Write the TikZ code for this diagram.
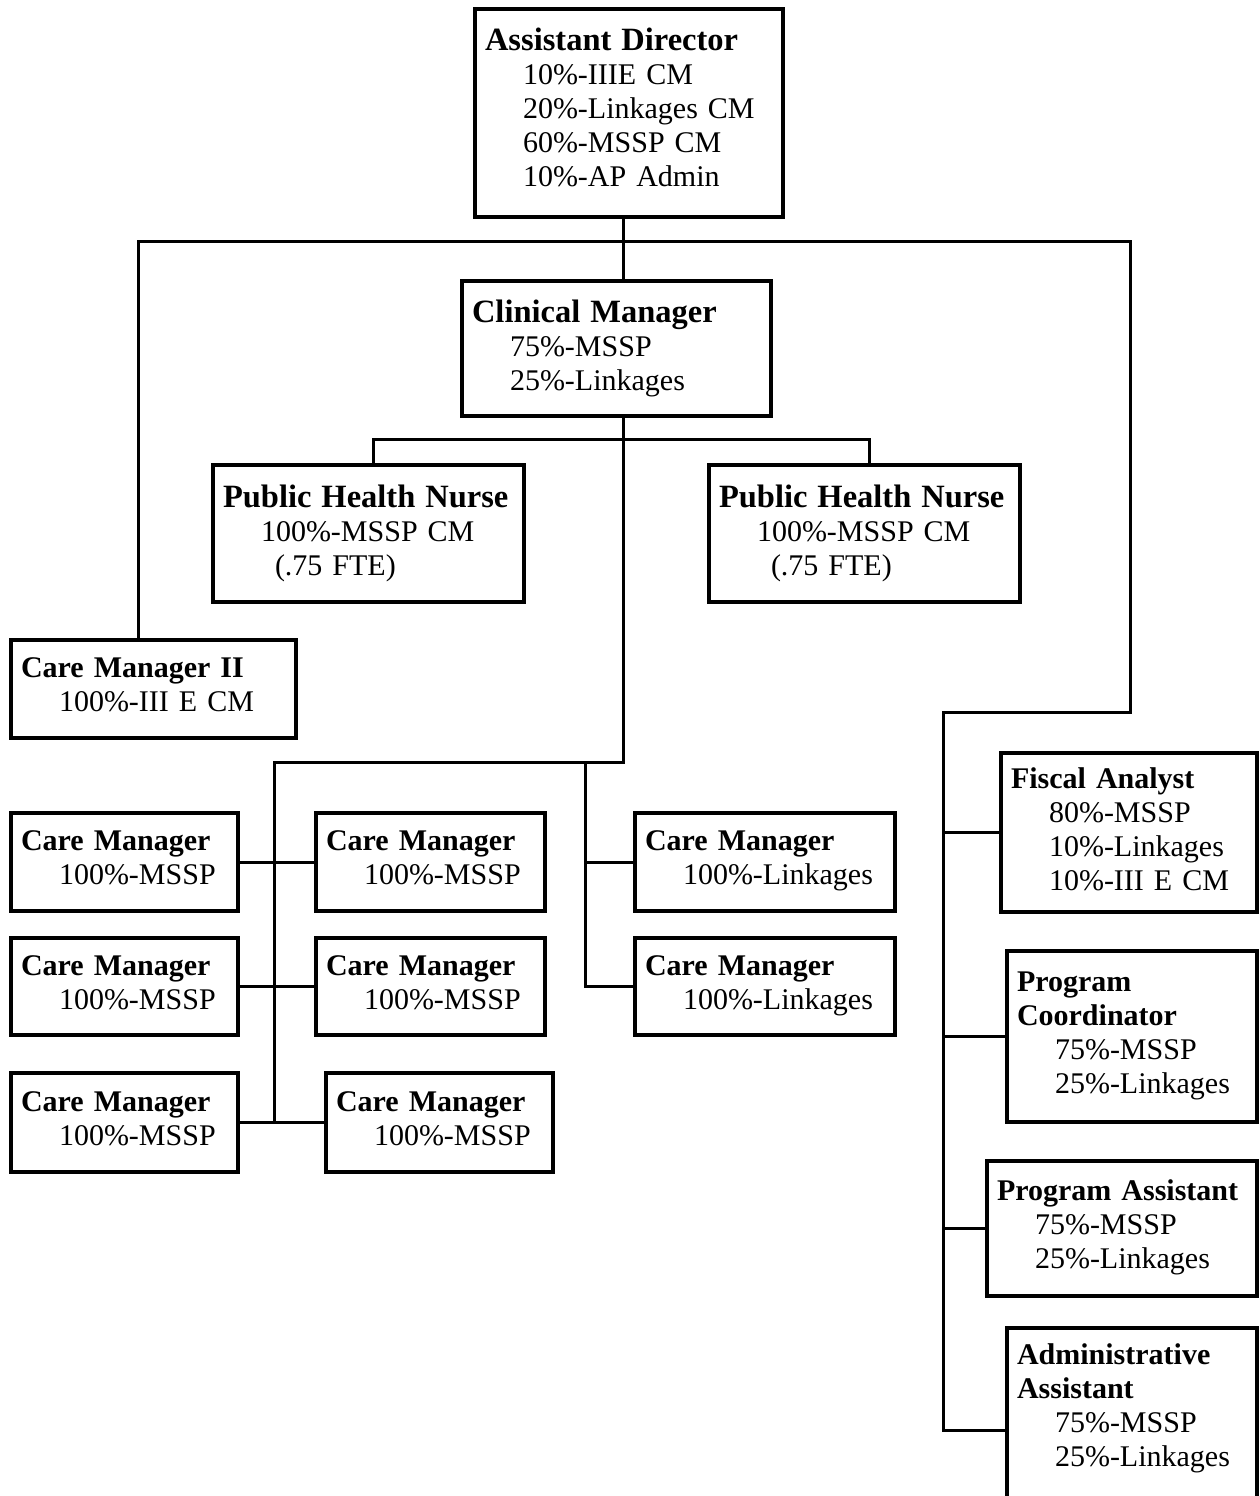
\documentclass[tikz,border=0pt]{standalone}
\usepackage{fontspec}
\setmainfont{Liberation Serif}
\usepackage{tikz}

\newcommand{\ttl}[1]{{\bfseries #1}}
\newcommand{\ttlw}[1]{{\fontsize{32.5}{34}\selectfont\bfseries #1}}
\newcommand{\ind}{\hspace*{38pt}}
\newcommand{\lift}[1][8pt]{\rule[-#1]{0pt}{0pt}}

\begin{document}
\begin{tikzpicture}[x=1pt, y=-1pt,
    orgbox/.style={rectangle, draw, line width=4pt, anchor=north west, inner xsep=10pt, inner ysep=0pt, outer sep=0pt, align=left, font=\fontsize{30}{34}\selectfont},
    link/.style={line width=3pt}
]
    \useasboundingbox (0,0) rectangle (1260,1496);
    \clip (0,0) rectangle (1260,1496);

    % Assistant Director
    \node[orgbox, minimum width=308pt, minimum height=208pt, text width=288pt] (ad) at (475,9) {\ttlw{Assistant Director}\\
    \ind 10\%-IIIE CM\\ \ind 20\%-Linkages CM\\ \ind 60\%-MSSP CM\\ \ind 10\%-AP Admin\lift[12pt]};

    % Clinical Manager
    \node[orgbox, minimum width=309pt, minimum height=135pt, text width=289pt] (cm) at (462,281) {\ttlw{Clinical Manager}\\
    \ind 75\%-MSSP\\ \ind 25\%-Linkages};

    % Public Health Nurses
    \node[orgbox, minimum width=311pt, minimum height=137pt, text width=291pt] (phl) at (213,465) {\ttlw{Public Health Nurse}\\
    \ind 100\%-MSSP CM\\ \hspace*{52pt}(.75 FTE)};
    \node[orgbox, minimum width=311pt, minimum height=137pt, text width=291pt] (phr) at (709,465) {\ttlw{Public Health Nurse}\\
    \ind 100\%-MSSP CM\\ \hspace*{52pt}(.75 FTE)};

    % Care Manager II
    \node[orgbox, minimum width=285pt, minimum height=98pt, text width=265pt] (cmii) at (11,640) {\ttl{Care Manager II}\\
    \ind 100\%-III E CM\lift};

    % Care Managers (MSSP)
    \node[orgbox, minimum width=227pt, minimum height=98pt, text width=207pt] (cmA1) at (11,813) {\ttl{Care Manager}\\ \ind 100\%-MSSP\lift};
    \node[orgbox, minimum width=227pt, minimum height=97pt, text width=207pt] (cmA2) at (11,938) {\ttl{Care Manager}\\ \ind 100\%-MSSP\lift};
    \node[orgbox, minimum width=227pt, minimum height=99pt, text width=207pt] (cmA3) at (11,1073) {\ttl{Care Manager}\\ \ind 100\%-MSSP\lift};
    \node[orgbox, minimum width=229pt, minimum height=98pt, text width=209pt] (cmB1) at (316,813) {\ttl{Care Manager}\\ \ind 100\%-MSSP\lift};
    \node[orgbox, minimum width=229pt, minimum height=97pt, text width=209pt] (cmB2) at (316,938) {\ttl{Care Manager}\\ \ind 100\%-MSSP\lift};
    \node[orgbox, minimum width=227pt, minimum height=99pt, text width=207pt] (cmB3) at (326,1073) {\ttl{Care Manager}\\ \ind 100\%-MSSP\lift};

    % Care Managers (Linkages)
    \node[orgbox, minimum width=260pt, minimum height=98pt, text width=240pt] (lkA) at (635,813) {\ttl{Care Manager}\\ \ind 100\%-Linkages\lift};
    \node[orgbox, minimum width=260pt, minimum height=97pt, text width=240pt] (lkB) at (635,938) {\ttl{Care Manager}\\ \ind 100\%-Linkages\lift};

    % Support staff
    \node[orgbox, minimum width=256pt, minimum height=159pt, text width=236pt] (fa) at (1001,753) {\ttl{Fiscal Analyst}\\
    \ind 80\%-MSSP\\ \ind 10\%-Linkages\\ \ind 10\%-III E CM\lift[6pt]};
    \node[orgbox, minimum width=250pt, minimum height=171pt, text width=230pt] (pc) at (1007,951) {\ttl{Program}\\ \ttl{Coordinator}\\
    \ind 75\%-MSSP\\ \ind 25\%-Linkages\lift};
    \node[orgbox, minimum width=270pt, minimum height=135pt, text width=250pt] (pa) at (987,1161) {\ttl{Program Assistant}\\
    \ind 75\%-MSSP\\ \ind 25\%-Linkages\lift};
    \node[orgbox, minimum width=250pt, inner ysep=12pt, text width=230pt] (aa) at (1007,1328) {\parbox[t][180pt][t]{230pt}{\vspace*{4pt}\ttl{Administrative}\\ \ttl{Assistant}\\
    \ind 75\%-MSSP\\ \ind 25\%-Linkages}};

    % Bus points
    \coordinate (topbus) at (623,241);
    \coordinate (lb) at (138,241);
    \coordinate (rb) at (1130,241);
    \coordinate (sb) at (943,712);
    \coordinate (nb) at (623,439);
    \coordinate (cb) at (623,762);
    \coordinate (lcol) at (274,762);
    \coordinate (mcol) at (585,762);

    % Lines
    \draw[link] (ad.south -| topbus) -- (cm.north -| topbus);
    \draw[link] (cmii.north -| lb) -- (lb) -- (rb) -- (rb |- sb) -- (sb) -- (sb |- aa.west) -- (aa.west);
    \draw[link] (sb |- fa.west) -- (fa.west);
    \draw[link] (sb |- pc.west) -- (pc.west);
    \draw[link] (sb |- pa.west) -- (pa.west);
    \draw[link] ([xshift=5pt]phl.north) |- (nb) -| ([xshift=5pt]phr.north);
    \draw[link] (cm.south -| nb) -- (cb) -- (lcol) -- (lcol |- cmA3.east);
    \draw[link] (cmA1.east) -- (cmB1.west);
    \draw[link] (cmA2.east) -- (cmB2.west);
    \draw[link] (cmA3.east) -- (cmB3.west);
    \draw[link] (mcol |- lkA.west) -- (lkA.west);
    \draw[link] (mcol) |- (lkB.west);
\end{tikzpicture}
\end{document}
